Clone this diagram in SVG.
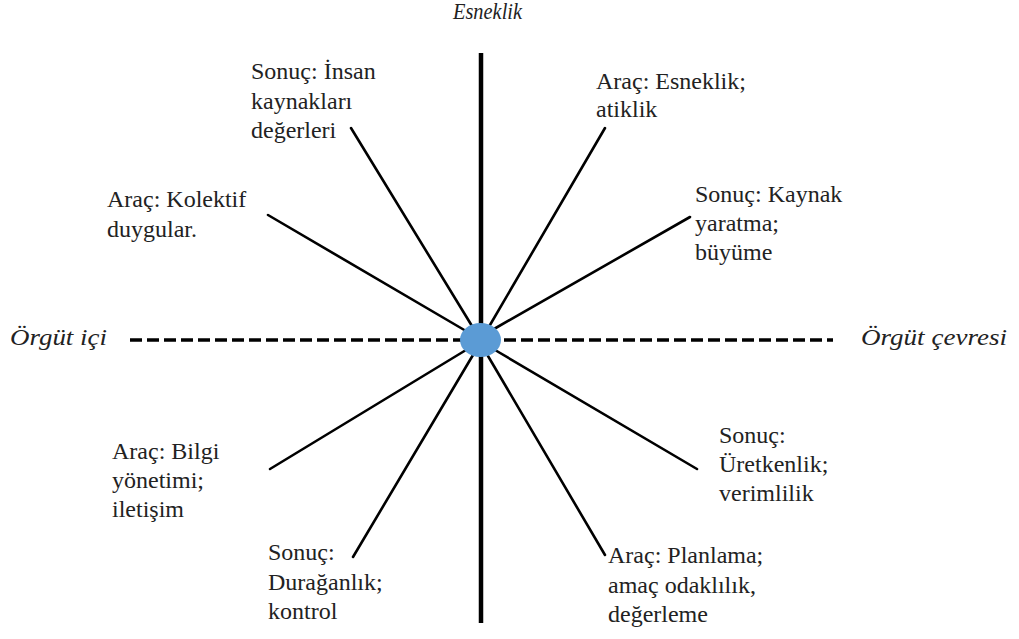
<svg xmlns="http://www.w3.org/2000/svg" width="1019" height="639" viewBox="0 0 1019 639">
<style>
text{font-family:'Liberation Serif','Times New Roman',serif;fill:#222}
.lbl{font-size:24px}
.ax{font-style:italic;font-size:24px}
.spoke{stroke:#000;stroke-width:2.6;fill:none;stroke-linecap:round}
</style>
<rect width="1019" height="639" fill="#fff"/>
<g id="connectors">
<line x1="481" y1="53" x2="481" y2="623" stroke="#000" stroke-width="4.5"/>
<line x1="130" y1="340" x2="833" y2="340" stroke="#000" stroke-width="3.5" stroke-dasharray="12,5"/>
<line class="spoke" x1="351" y1="128" x2="472" y2="326"/>
<line class="spoke" x1="605" y1="128" x2="490" y2="325"/>
<line class="spoke" x1="690" y1="217" x2="494" y2="329"/>
<line class="spoke" x1="268" y1="215" x2="466" y2="331"/>
<line class="spoke" x1="270" y1="469" x2="466" y2="350"/>
<line class="spoke" x1="353" y1="557" x2="473" y2="355"/>
<line class="spoke" x1="697" y1="469" x2="495" y2="350"/>
<line class="spoke" x1="605" y1="555" x2="488" y2="356"/>
</g>
<g id="center"><ellipse cx="480.5" cy="340" rx="20.5" ry="17" fill="#5B9BD5"/></g>
<g id="axis-top"><text class="ax" x="453" y="19" textLength="69" lengthAdjust="spacingAndGlyphs">Esneklik</text></g>
<g id="axis-left"><text class="ax" x="10" y="345" textLength="97" lengthAdjust="spacingAndGlyphs">Örgüt içi</text></g>
<g id="axis-right"><text class="ax" x="861" y="345" textLength="146" lengthAdjust="spacingAndGlyphs">Örgüt çevresi</text></g>
<g id="n-insan"><text class="lbl" x="251" y="79">Sonuç: İnsan<tspan x="251" dy="29.5">kaynakları</tspan><tspan x="251" dy="29.5">değerleri</tspan></text></g>
<g id="n-esneklik"><text class="lbl" x="596" y="89">Araç: Esneklik;<tspan x="596" dy="28">atiklik</tspan></text></g>
<g id="n-kaynak"><text class="lbl" x="695" y="201.5">Sonuç: Kaynak<tspan x="695" dy="29">yaratma;</tspan><tspan x="695" dy="29">büyüme</tspan></text></g>
<g id="n-kolektif"><text class="lbl" x="107" y="207">Araç: Kolektif<tspan x="107" dy="29.5">duygular.</tspan></text></g>
<g id="n-bilgi"><text class="lbl" x="112" y="459">Araç: Bilgi<tspan x="112" dy="28.5">yönetimi;</tspan><tspan x="112" dy="29">iletişim</tspan></text></g>
<g id="n-duraganlik"><text class="lbl" x="268" y="560">Sonuç:<tspan x="268" dy="30">Durağanlık;</tspan><tspan x="268" dy="29">kontrol</tspan></text></g>
<g id="n-uretkenlik"><text class="lbl" x="719" y="443">Sonuç:<tspan x="719" dy="29">Üretkenlik;</tspan><tspan x="719" dy="28.5">verimlilik</tspan></text></g>
<g id="n-planlama"><text class="lbl" x="608" y="563">Araç: Planlama;<tspan x="608" dy="29.5">amaç odaklılık,</tspan><tspan x="608" dy="29">değerleme</tspan></text></g>
</svg>
